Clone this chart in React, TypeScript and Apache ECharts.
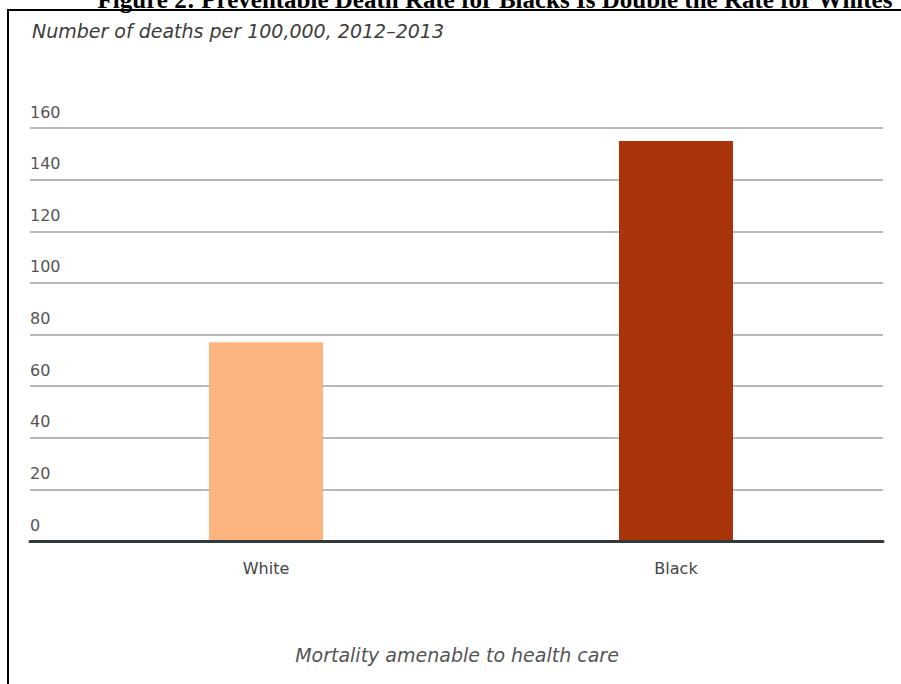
import React, { useEffect, useRef } from "react";
import * as echarts from "echarts";

const categories = ["White", "Black"];
const deathRates = [77, 155];
const barColors = ["#FEB47F", "#A9340A"];
const yTicks = { min: 0, max: 160, interval: 20 };
const titleText = "Figure 2: Preventable Death Rate for Blacks Is Double the Rate for Whites";
const subtitleText = "Number of deaths per 100,000, 2012\u20132013";
const footerText = "Mortality amenable to health care";

export default function App() {
  const ref = useRef<HTMLDivElement>(null);
  useEffect(() => {
    if (!ref.current) return;
    const chart = echarts.init(ref.current, null, { renderer: "svg" });
    const labelFont = "'DejaVu Sans', sans-serif";
    chart.setOption({
      animation: false,
      backgroundColor: "#ffffff",
      grid: [
        { left: 30, right: 18, top: 128, bottom: 143 },
        { left: 61, right: 20, top: 128, bottom: 143 },
      ],
      xAxis: [
        {
          type: "category",
          gridIndex: 0,
          data: [""],
          z: 5,
          axisLine: { show: true, lineStyle: { color: "#333a3d", width: 3 } },
          axisTick: { show: false },
          axisLabel: { show: false },
          splitLine: { show: false },
        },
        {
          type: "category",
          gridIndex: 1,
          data: categories,
          axisLine: { show: false },
          axisTick: { show: false },
          axisLabel: {
            margin: 19,
            fontSize: 16,
            color: "#444444",
            fontFamily: labelFont,
          },
        },
      ],
      yAxis: [
        {
          type: "value",
          gridIndex: 0,
          min: yTicks.min,
          max: yTicks.max,
          interval: yTicks.interval,
          axisLine: { show: false },
          axisTick: { show: false },
          axisLabel: {
            inside: true,
            margin: 0,
            verticalAlign: "bottom",
            padding: [0, 0, 8, 0],
            fontSize: 16,
            color: "#555555",
            fontFamily: labelFont,
          },
          splitLine: { show: true, lineStyle: { color: "#b8b8b8", width: 2 } },
        },
        {
          type: "value",
          gridIndex: 1,
          min: yTicks.min,
          max: yTicks.max,
          interval: yTicks.interval,
          show: false,
          splitLine: { show: false },
        },
      ],
      series: [
        {
          type: "bar",
          xAxisIndex: 1,
          yAxisIndex: 1,
          barWidth: 114,
          data: deathRates.map((v, i) => ({
            value: v,
            itemStyle: { color: barColors[i] },
          })),
        },
      ],
      graphic: [
        {
          type: "line",
          shape: { x1: 8, y1: 10, x2: 901, y2: 10 },
          style: { stroke: "#000000", lineWidth: 2 },
        },
        {
          type: "line",
          shape: { x1: 8, y1: 9, x2: 8, y2: 684 },
          style: { stroke: "#000000", lineWidth: 2 },
        },
        {
          type: "text",
          x: 495,
          y: -1,
          style: {
            text: titleText,
            align: "center",
            verticalAlign: "middle",
            font: "bold 25px 'Liberation Serif', 'Times New Roman', serif",
            fill: "#000000",
          },
        },
        {
          type: "text",
          x: 32,
          y: 31,
          style: {
            text: subtitleText,
            align: "left",
            verticalAlign: "middle",
            font: "italic 19px 'DejaVu Sans', sans-serif",
            fill: "#3c3c3c",
          },
        },
        {
          type: "text",
          x: 457,
          y: 655,
          style: {
            text: footerText,
            align: "center",
            verticalAlign: "middle",
            font: "italic 19px 'DejaVu Sans', sans-serif",
            fill: "#555555",
          },
        },
      ],
    });
    return () => chart.dispose();
  }, []);
  return (
    <div
      ref={ref}
      style={{ position: "fixed", left: 0, top: 0, width: 901, height: 684 }}
    />
  );
}
